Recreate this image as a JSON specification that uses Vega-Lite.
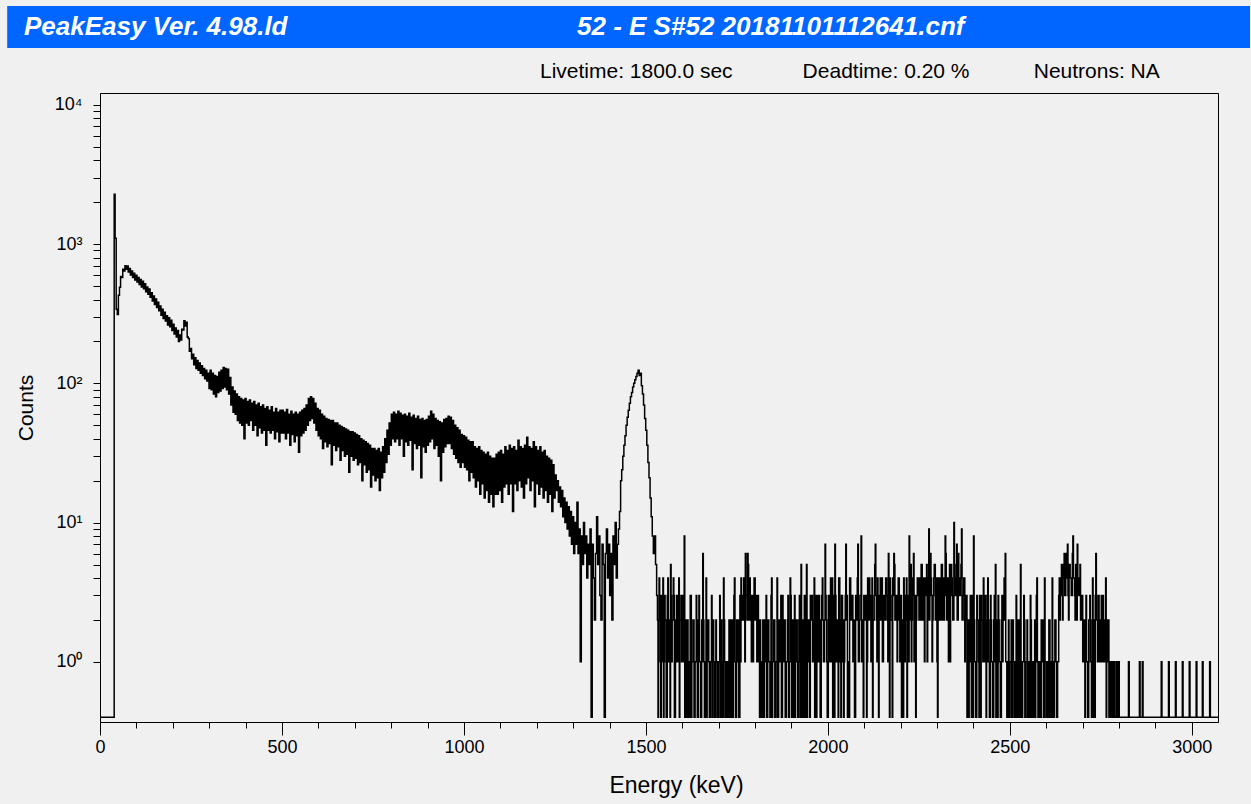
{
"$schema": "https://vega.github.io/schema/vega-lite/v6.json",
"background": "#f0f0f0",
"padding": {"left": 7, "top": 6, "right": 10, "bottom": 20},
"spacing": 12,
"config": {"view": {"stroke": null}, "font": "Liberation Sans"},
"vconcat": [
{
"width": 1118, "height": 42,
"layer": [
{"data": {"values": [{"part": "bar"}]},
 "mark": {"type": "rect", "color": "#0066ff"},
 "encoding": {"x": {"datum": -255, "type": "quantitative", "scale": {"domain": [0, 3072], "nice": false, "zero": false}, "axis": null}, "x2": {"datum": 3160}}},
{"data": {"values": [{"label": "PeakEasy Ver. 4.98.ld"}]},
 "mark": {"type": "text", "align": "left", "baseline": "middle", "fontSize": 26, "fontWeight": "bold", "fontStyle": "italic", "color": "white"},
 "encoding": {"x": {"datum": -209, "type": "quantitative"}, "text": {"field": "label"}}},
{"data": {"values": [{"label": "52 - E S#52 20181101112641.cnf"}]},
 "mark": {"type": "text", "align": "center", "baseline": "middle", "fontSize": 26, "fontWeight": "bold", "fontStyle": "italic", "color": "white"},
 "encoding": {"x": {"datum": 1843, "type": "quantitative"}, "text": {"field": "label"}}}
]
},
{
"width": 1118, "height": 629,
"view": {"stroke": "#000000", "strokeWidth": 1},
"title": {"text": "Livetime: 1800.0 sec\u00a0\u00a0\u00a0\u00a0\u00a0\u00a0\u00a0\u00a0\u00a0\u00a0\u00a0\u00a0Deadtime: 0.20 %\u00a0\u00a0\u00a0\u00a0\u00a0\u00a0\u00a0\u00a0\u00a0\u00a0\u00a0Neutrons: NA", "anchor": "start", "frame": "group", "dx": 440, "fontSize": 21, "fontWeight": "normal", "color": "#000000", "offset": -6, "baseline": "alphabetic"},
"data": {"values": [
{"e":0,"c":0},{"e":38,"c":0},{"e":40,"c":2280},{"e":43,"c":1100},{"e":46,"c":340},{"e":49,"c":312},{"e":52,"c":430},{"e":55,"c":490},{"e":58,"c":585},{"e":61,"c":575},{"e":64,"c":660},{"e":67,"c":640},{"e":70,"c":700},{"e":73,"c":660},{"e":76,"c":695},{"e":79,"c":630},{"e":82,"c":668},{"e":85,"c":600},{"e":88,"c":640},{"e":91,"c":575},{"e":94,"c":618},{"e":97,"c":552},{"e":100,"c":598},{"e":103,"c":535},{"e":106,"c":576},{"e":109,"c":512},{"e":112,"c":556},{"e":115,"c":492},{"e":118,"c":540},{"e":121,"c":478},{"e":124,"c":520},{"e":127,"c":455},{"e":130,"c":492},{"e":133,"c":436},{"e":136,"c":475},{"e":139,"c":415},{"e":142,"c":448},{"e":145,"c":390},{"e":148,"c":424},{"e":151,"c":368},{"e":154,"c":404},{"e":157,"c":350},{"e":160,"c":382},{"e":163,"c":332},{"e":166,"c":360},{"e":169,"c":308},{"e":172,"c":340},{"e":175,"c":292},{"e":178,"c":324},{"e":181,"c":280},{"e":184,"c":306},{"e":187,"c":262},{"e":190,"c":296},{"e":193,"c":255},{"e":196,"c":284},{"e":199,"c":240},{"e":202,"c":266},{"e":205,"c":226},{"e":208,"c":250},{"e":211,"c":215},{"e":214,"c":240},{"e":217,"c":200},{"e":220,"c":222},{"e":223,"c":205},{"e":226,"c":245},{"e":229,"c":242},{"e":232,"c":282},{"e":235,"c":258},{"e":238,"c":275},{"e":241,"c":215},{"e":244,"c":210},{"e":247,"c":170},{"e":250,"c":178},{"e":253,"c":150},{"e":256,"c":162},{"e":259,"c":136},{"e":262,"c":153},{"e":265,"c":128},{"e":268,"c":146},{"e":271,"c":124},{"e":274,"c":140},{"e":277,"c":118},{"e":280,"c":134},{"e":283,"c":114},{"e":286,"c":128},{"e":289,"c":108},{"e":292,"c":124},{"e":295,"c":104},{"e":298,"c":118},
{"e":301,"c":92},{"e":304,"c":124},{"e":307,"c":90},{"e":310,"c":118},{"e":313,"c":84},{"e":316,"c":114},{"e":319,"c":80},{"e":322,"c":112},{"e":325,"c":86},{"e":328,"c":120},{"e":331,"c":88},{"e":334,"c":124},{"e":337,"c":92},{"e":340,"c":130},{"e":343,"c":94},{"e":346,"c":128},{"e":349,"c":90},{"e":352,"c":126},{"e":355,"c":84},{"e":358,"c":110},{"e":361,"c":70},{"e":364,"c":94},{"e":367,"c":62},{"e":370,"c":88},{"e":373,"c":60},{"e":376,"c":84},{"e":379,"c":54},{"e":382,"c":80},{"e":385,"c":52},{"e":388,"c":78},{"e":391,"c":50},{"e":394,"c":76},{"e":397,"c":40},{"e":400,"c":78},{"e":403,"c":52},{"e":406,"c":74},{"e":409,"c":50},{"e":412,"c":76},{"e":415,"c":54},{"e":418,"c":72},{"e":421,"c":46},{"e":424,"c":74},{"e":427,"c":50},{"e":430,"c":70},{"e":433,"c":42},{"e":436,"c":72},{"e":439,"c":48},{"e":442,"c":68},{"e":445,"c":44},{"e":448,"c":70},{"e":451,"c":46},{"e":454,"c":66},{"e":457,"c":36},{"e":460,"c":68},{"e":463,"c":46},{"e":466,"c":64},{"e":469,"c":44},{"e":472,"c":68},{"e":475,"c":46},{"e":478,"c":62},{"e":481,"c":40},{"e":484,"c":66},{"e":487,"c":45},{"e":490,"c":62},{"e":493,"c":38},{"e":496,"c":64},{"e":499,"c":44},
{"e":502,"c":64},{"e":505,"c":44},{"e":508,"c":62},{"e":511,"c":40},{"e":514,"c":65},{"e":517,"c":44},{"e":520,"c":60},{"e":523,"c":36},{"e":526,"c":63},{"e":529,"c":43},{"e":532,"c":60},{"e":535,"c":38},{"e":538,"c":62},{"e":541,"c":42},{"e":544,"c":60},{"e":547,"c":32},{"e":550,"c":62},{"e":553,"c":42},{"e":556,"c":64},{"e":559,"c":44},{"e":562,"c":66},{"e":565,"c":46},{"e":568,"c":70},{"e":571,"c":50},{"e":574,"c":78},{"e":577,"c":54},{"e":580,"c":80},{"e":583,"c":56},{"e":586,"c":78},{"e":589,"c":52},{"e":592,"c":72},{"e":595,"c":46},{"e":598,"c":66},{"e":601,"c":42},{"e":604,"c":64},{"e":607,"c":40},{"e":610,"c":60},{"e":613,"c":34},{"e":616,"c":58},{"e":619,"c":38},{"e":622,"c":56},{"e":625,"c":35},{"e":628,"c":55},{"e":631,"c":37},{"e":634,"c":54},{"e":637,"c":26},{"e":640,"c":54},{"e":643,"c":36},{"e":646,"c":52},{"e":649,"c":33},{"e":652,"c":52},{"e":655,"c":35},{"e":658,"c":50},{"e":661,"c":28},{"e":664,"c":49},{"e":667,"c":33},{"e":670,"c":48},{"e":673,"c":30},{"e":676,"c":47},{"e":679,"c":31},{"e":682,"c":46},{"e":685,"c":23},{"e":688,"c":45},{"e":691,"c":30},{"e":694,"c":45},{"e":697,"c":28},{"e":700,"c":44},{"e":703,"c":29},{"e":706,"c":43},{"e":709,"c":26},{"e":712,"c":42},{"e":715,"c":27},{"e":718,"c":40},{"e":721,"c":20},{"e":724,"c":39},{"e":727,"c":26},{"e":730,"c":38},{"e":733,"c":23},{"e":736,"c":37},{"e":739,"c":24},{"e":742,"c":36},{"e":745,"c":18},{"e":748,"c":34},
{"e":751,"c":22},{"e":754,"c":34},{"e":757,"c":20},{"e":760,"c":33},{"e":763,"c":21},{"e":766,"c":34},{"e":769,"c":17},{"e":772,"c":32},{"e":775,"c":21},{"e":778,"c":35},{"e":781,"c":23},{"e":784,"c":40},{"e":787,"c":27},{"e":790,"c":46},{"e":793,"c":31},{"e":796,"c":52},{"e":799,"c":36},{"e":802,"c":60},{"e":805,"c":40},{"e":808,"c":62},{"e":811,"c":38},{"e":814,"c":60},{"e":817,"c":40},{"e":820,"c":63},{"e":823,"c":36},{"e":826,"c":61},{"e":829,"c":40},{"e":832,"c":59},{"e":835,"c":30},{"e":838,"c":60},{"e":841,"c":38},{"e":844,"c":58},{"e":847,"c":36},{"e":850,"c":61},{"e":853,"c":39},{"e":856,"c":57},{"e":859,"c":24},{"e":862,"c":59},{"e":865,"c":37},{"e":868,"c":56},{"e":871,"c":34},{"e":874,"c":58},{"e":877,"c":36},{"e":880,"c":55},{"e":883,"c":21},{"e":886,"c":56},{"e":889,"c":35},{"e":892,"c":54},{"e":895,"c":32},{"e":898,"c":55},{"e":901,"c":36},{"e":904,"c":58},{"e":907,"c":38},{"e":910,"c":63},{"e":913,"c":40},{"e":916,"c":60},{"e":919,"c":34},{"e":922,"c":56},{"e":925,"c":36},{"e":928,"c":54},{"e":931,"c":30},{"e":934,"c":53},{"e":937,"c":20},{"e":940,"c":52},{"e":943,"c":32},{"e":946,"c":55},{"e":949,"c":35},{"e":952,"c":56},{"e":955,"c":37},{"e":958,"c":58},{"e":961,"c":37},{"e":964,"c":57},{"e":967,"c":34},{"e":970,"c":54},{"e":973,"c":31},{"e":976,"c":50},{"e":979,"c":29},{"e":982,"c":48},{"e":985,"c":27},{"e":988,"c":46},{"e":991,"c":25},{"e":994,"c":43},{"e":997,"c":27},{"e":1000,"c":42},
{"e":1003,"c":25},{"e":1006,"c":41},{"e":1009,"c":24},{"e":1012,"c":39},{"e":1015,"c":20},{"e":1018,"c":38},{"e":1021,"c":23},{"e":1024,"c":38},{"e":1027,"c":21},{"e":1030,"c":35},{"e":1033,"c":18},{"e":1036,"c":34},{"e":1039,"c":20},{"e":1042,"c":35},{"e":1045,"c":16},{"e":1048,"c":33},{"e":1051,"c":19},{"e":1054,"c":32},{"e":1057,"c":15},{"e":1060,"c":31},{"e":1063,"c":17},{"e":1066,"c":32},{"e":1069,"c":14},{"e":1072,"c":30},{"e":1075,"c":16},{"e":1078,"c":29},{"e":1081,"c":13},{"e":1084,"c":29},{"e":1087,"c":16},{"e":1090,"c":31},{"e":1093,"c":16},{"e":1096,"c":32},{"e":1099,"c":17},{"e":1102,"c":33},{"e":1105,"c":14},{"e":1108,"c":31},{"e":1111,"c":18},{"e":1114,"c":35},{"e":1117,"c":19},{"e":1120,"c":33},{"e":1123,"c":16},{"e":1126,"c":36},{"e":1129,"c":19},{"e":1132,"c":34},{"e":1135,"c":12},{"e":1138,"c":35},{"e":1141,"c":19},{"e":1144,"c":33},{"e":1147,"c":17},{"e":1150,"c":39},{"e":1153,"c":20},{"e":1156,"c":35},{"e":1159,"c":18},{"e":1162,"c":34},{"e":1165,"c":15},{"e":1168,"c":36},{"e":1171,"c":19},{"e":1174,"c":41},{"e":1177,"c":21},{"e":1180,"c":35},{"e":1183,"c":17},{"e":1186,"c":34},{"e":1189,"c":20},{"e":1192,"c":38},{"e":1195,"c":13},{"e":1198,"c":35},{"e":1201,"c":19},{"e":1204,"c":33},{"e":1207,"c":16},{"e":1210,"c":35},{"e":1213,"c":18},{"e":1216,"c":32},{"e":1219,"c":15},{"e":1222,"c":33},{"e":1225,"c":17},{"e":1228,"c":30},{"e":1231,"c":14},{"e":1234,"c":29},{"e":1237,"c":16},{"e":1240,"c":28},{"e":1243,"c":12},{"e":1246,"c":26},{"e":1249,"c":15},
{"e":1252,"c":22},{"e":1255,"c":17},{"e":1258,"c":20},{"e":1261,"c":14},{"e":1264,"c":18},{"e":1267,"c":13},{"e":1270,"c":17},{"e":1273,"c":11},{"e":1276,"c":15},{"e":1279,"c":10},{"e":1282,"c":14},{"e":1285,"c":9},{"e":1288,"c":13},{"e":1291,"c":8},{"e":1294,"c":12},{"e":1297,"c":7},{"e":1300,"c":11},{"e":1303,"c":6},{"e":1306,"c":10},{"e":1309,"c":7},{"e":1312,"c":14},{"e":1315,"c":6},{"e":1318,"c":9},{"e":1321,"c":1},{"e":1324,"c":8},{"e":1327,"c":5},{"e":1330,"c":10},{"e":1333,"c":6},{"e":1336,"c":8},{"e":1339,"c":4},{"e":1342,"c":7},{"e":1345,"c":5},{"e":1348,"c":9},{"e":1351,"c":0},{"e":1354,"c":7},{"e":1357,"c":4},{"e":1360,"c":2},{"e":1363,"c":6},{"e":1366,"c":11},{"e":1369,"c":5},{"e":1372,"c":8},{"e":1375,"c":3},{"e":1378,"c":2},{"e":1381,"c":7},{"e":1384,"c":5},{"e":1387,"c":0},{"e":1390,"c":6},{"e":1393,"c":9},{"e":1396,"c":4},{"e":1399,"c":7},{"e":1402,"c":3},{"e":1405,"c":6},{"e":1408,"c":2},{"e":1411,"c":8},{"e":1414,"c":5},{"e":1417,"c":10},{"e":1420,"c":4},{"e":1423,"c":7},{"e":1426,"c":9},
{"e":1429,"c":12},{"e":1432,"c":20},{"e":1435,"c":24},{"e":1438,"c":30},{"e":1441,"c":36},{"e":1444,"c":42},{"e":1447,"c":50},{"e":1450,"c":57},{"e":1453,"c":64},{"e":1456,"c":72},{"e":1459,"c":80},{"e":1462,"c":86},{"e":1465,"c":94},{"e":1468,"c":100},{"e":1471,"c":106},{"e":1474,"c":112},{"e":1477,"c":118},{"e":1480,"c":124},{"e":1483,"c":114},{"e":1486,"c":118},{"e":1489,"c":96},{"e":1492,"c":84},{"e":1495,"c":70},{"e":1498,"c":56},{"e":1501,"c":46},{"e":1504,"c":36},{"e":1507,"c":27},{"e":1510,"c":21},{"e":1513,"c":15},{"e":1516,"c":11},{"e":1519,"c":8},{"e":1522,"c":6},{"e":1525,"c":8},{"e":1528,"c":5},
{"e":1531,"c":3},{"e":1534,"c":0},{"e":1537,"c":4},{"e":1540,"c":2},{"e":1543,"c":3},{"e":1546,"c":1},{"e":1549,"c":0},{"e":1552,"c":3},{"e":1555,"c":2},{"e":1558,"c":0},{"e":1561,"c":4},{"e":1564,"c":1},{"e":1567,"c":0},{"e":1570,"c":3},{"e":1573,"c":2},{"e":1576,"c":4},{"e":1579,"c":0},{"e":1582,"c":2},{"e":1585,"c":3},{"e":1588,"c":1},{"e":1591,"c":4},{"e":1594,"c":2},{"e":1597,"c":3},{"e":1600,"c":1},
{"e":1603,"c":2},{"e":1606,"c":8},{"e":1609,"c":1},{"e":1612,"c":0},{"e":1615,"c":2},{"e":1618,"c":1},{"e":1621,"c":0},{"e":1624,"c":3},{"e":1627,"c":1},{"e":1630,"c":2},{"e":1633,"c":0},{"e":1636,"c":1},{"e":1639,"c":3},{"e":1642,"c":0},{"e":1645,"c":2},{"e":1648,"c":1},{"e":1651,"c":0},{"e":1654,"c":2},{"e":1657,"c":6},{"e":1660,"c":1},{"e":1663,"c":0},{"e":1666,"c":4},{"e":1669,"c":1},{"e":1672,"c":2},{"e":1675,"c":0},{"e":1678,"c":1},{"e":1681,"c":3},{"e":1684,"c":0},{"e":1687,"c":1},{"e":1690,"c":0},{"e":1693,"c":2},{"e":1696,"c":1},{"e":1699,"c":0},{"e":1702,"c":1},{"e":1705,"c":0},{"e":1708,"c":2},{"e":1711,"c":0},{"e":1714,"c":4},{"e":1717,"c":1},{"e":1720,"c":0},{"e":1723,"c":1},{"e":1726,"c":0},{"e":1729,"c":2},{"e":1732,"c":1},{"e":1735,"c":0},{"e":1738,"c":2},{"e":1741,"c":1},{"e":1744,"c":4},{"e":1747,"c":0},{"e":1750,"c":2},{"e":1753,"c":1},{"e":1756,"c":0},{"e":1759,"c":3},
{"e":1762,"c":4},{"e":1765,"c":2},{"e":1768,"c":3},{"e":1771,"c":2},{"e":1774,"c":6},{"e":1777,"c":3},{"e":1780,"c":6},{"e":1783,"c":2},{"e":1786,"c":4},{"e":1789,"c":2},{"e":1792,"c":3},{"e":1795,"c":1},{"e":1798,"c":4},{"e":1801,"c":2},{"e":1804,"c":3},{"e":1807,"c":1},{"e":1810,"c":2},{"e":1813,"c":0},
{"e":1816,"c":1},{"e":1819,"c":0},{"e":1822,"c":2},{"e":1825,"c":0},{"e":1828,"c":1},{"e":1831,"c":3},{"e":1834,"c":0},{"e":1837,"c":2},{"e":1840,"c":1},{"e":1843,"c":0},{"e":1846,"c":4},{"e":1849,"c":1},{"e":1852,"c":2},{"e":1855,"c":0},{"e":1858,"c":1},{"e":1861,"c":4},{"e":1864,"c":0},{"e":1867,"c":2},{"e":1870,"c":1},{"e":1873,"c":0},{"e":1876,"c":3},{"e":1879,"c":1},{"e":1882,"c":2},{"e":1885,"c":0},{"e":1888,"c":1},{"e":1891,"c":3},{"e":1894,"c":0},{"e":1897,"c":4},{"e":1900,"c":1},{"e":1903,"c":2},{"e":1906,"c":0},{"e":1909,"c":3},{"e":1912,"c":1},{"e":1915,"c":2},{"e":1918,"c":0},{"e":1921,"c":2},{"e":1924,"c":1},{"e":1927,"c":5},{"e":1930,"c":0},{"e":1933,"c":2},{"e":1936,"c":3},{"e":1939,"c":0},{"e":1942,"c":5},{"e":1945,"c":1},{"e":1948,"c":2},{"e":1951,"c":0},
{"e":1954,"c":2},{"e":1957,"c":3},{"e":1960,"c":1},{"e":1963,"c":4},{"e":1966,"c":2},{"e":1969,"c":0},{"e":1972,"c":3},{"e":1975,"c":1},{"e":1978,"c":2},{"e":1981,"c":0},{"e":1984,"c":3},{"e":1987,"c":2},{"e":1990,"c":1},{"e":1993,"c":7},{"e":1996,"c":2},{"e":1999,"c":0},{"e":2002,"c":3},{"e":2005,"c":1},{"e":2008,"c":4},{"e":2011,"c":2},{"e":2014,"c":0},{"e":2017,"c":3},{"e":2020,"c":7},{"e":2023,"c":1},{"e":2026,"c":2},{"e":2029,"c":0},{"e":2032,"c":4},{"e":2035,"c":2},{"e":2038,"c":3},{"e":2041,"c":1},{"e":2044,"c":0},{"e":2047,"c":2},{"e":2050,"c":7},{"e":2053,"c":3},{"e":2056,"c":1},{"e":2059,"c":0},{"e":2062,"c":4},{"e":2065,"c":2},{"e":2068,"c":3},{"e":2071,"c":1},{"e":2074,"c":0},{"e":2077,"c":3},{"e":2080,"c":2},{"e":2083,"c":7},{"e":2086,"c":1},{"e":2089,"c":3},{"e":2092,"c":8},{"e":2095,"c":2},{"e":2098,"c":0},
{"e":2101,"c":3},{"e":2104,"c":2},{"e":2107,"c":0},{"e":2110,"c":4},{"e":2113,"c":2},{"e":2116,"c":3},{"e":2119,"c":1},{"e":2122,"c":4},{"e":2125,"c":2},{"e":2128,"c":3},{"e":2131,"c":7},{"e":2134,"c":2},{"e":2137,"c":4},{"e":2140,"c":0},{"e":2143,"c":3},{"e":2146,"c":2},{"e":2149,"c":4},{"e":2152,"c":1},{"e":2155,"c":3},{"e":2158,"c":2},{"e":2161,"c":4},{"e":2164,"c":2},{"e":2167,"c":6},{"e":2170,"c":0},{"e":2173,"c":3},{"e":2176,"c":2},{"e":2179,"c":4},{"e":2182,"c":6},{"e":2185,"c":2},{"e":2188,"c":3},{"e":2191,"c":1},{"e":2194,"c":4},{"e":2197,"c":2},{"e":2200,"c":3},{"e":2203,"c":0},{"e":2206,"c":2},{"e":2209,"c":4},{"e":2212,"c":1},{"e":2215,"c":3},{"e":2218,"c":0},{"e":2221,"c":2},{"e":2224,"c":8},{"e":2227,"c":3},{"e":2230,"c":1},{"e":2233,"c":4},{"e":2236,"c":6},{"e":2239,"c":2},{"e":2242,"c":0},{"e":2245,"c":3},
{"e":2248,"c":4},{"e":2251,"c":2},{"e":2254,"c":3},{"e":2257,"c":5},{"e":2260,"c":2},{"e":2263,"c":4},{"e":2266,"c":1},{"e":2269,"c":3},{"e":2272,"c":5},{"e":2275,"c":2},{"e":2278,"c":9},{"e":2281,"c":3},{"e":2284,"c":4},{"e":2287,"c":1},{"e":2290,"c":3},{"e":2293,"c":5},{"e":2296,"c":2},{"e":2299,"c":4},{"e":2302,"c":0},{"e":2305,"c":3},{"e":2308,"c":4},{"e":2311,"c":2},{"e":2314,"c":5},{"e":2317,"c":3},{"e":2320,"c":2},{"e":2323,"c":8},{"e":2326,"c":3},{"e":2329,"c":4},{"e":2332,"c":1},{"e":2335,"c":5},{"e":2338,"c":3},{"e":2341,"c":4},{"e":2344,"c":2},{"e":2347,"c":10},{"e":2350,"c":3},{"e":2353,"c":5},{"e":2356,"c":2},{"e":2359,"c":6},{"e":2362,"c":3},{"e":2365,"c":4},{"e":2368,"c":9},{"e":2371,"c":2},{"e":2374,"c":4},{"e":2377,"c":1},{"e":2380,"c":3},
{"e":2383,"c":0},{"e":2386,"c":2},{"e":2389,"c":1},{"e":2392,"c":3},{"e":2395,"c":0},{"e":2398,"c":2},{"e":2401,"c":8},{"e":2404,"c":1},{"e":2407,"c":0},{"e":2410,"c":3},{"e":2413,"c":2},{"e":2416,"c":0},{"e":2419,"c":1},{"e":2422,"c":3},{"e":2425,"c":2},{"e":2428,"c":4},{"e":2431,"c":1},{"e":2434,"c":3},{"e":2437,"c":2},{"e":2440,"c":4},{"e":2443,"c":1},{"e":2446,"c":0},{"e":2449,"c":2},{"e":2452,"c":1},{"e":2455,"c":0},{"e":2458,"c":3},{"e":2461,"c":5},{"e":2464,"c":1},{"e":2467,"c":0},{"e":2470,"c":2},{"e":2473,"c":1},{"e":2476,"c":0},{"e":2479,"c":3},{"e":2482,"c":2},{"e":2485,"c":4},{"e":2488,"c":6},
{"e":2491,"c":1},{"e":2494,"c":0},{"e":2497,"c":2},{"e":2500,"c":0},{"e":2503,"c":1},{"e":2506,"c":0},{"e":2509,"c":2},{"e":2512,"c":1},{"e":2515,"c":0},{"e":2518,"c":3},{"e":2521,"c":1},{"e":2524,"c":0},{"e":2527,"c":2},{"e":2530,"c":5},{"e":2533,"c":0},{"e":2536,"c":1},{"e":2539,"c":3},{"e":2542,"c":0},{"e":2545,"c":1},{"e":2548,"c":2},{"e":2551,"c":0},{"e":2554,"c":1},{"e":2557,"c":3},{"e":2560,"c":0},{"e":2563,"c":1},{"e":2566,"c":0},{"e":2569,"c":2},{"e":2572,"c":1},{"e":2575,"c":4},{"e":2578,"c":0},{"e":2581,"c":1},{"e":2584,"c":0},{"e":2587,"c":2},{"e":2590,"c":1},{"e":2593,"c":0},{"e":2596,"c":4},{"e":2599,"c":1},{"e":2602,"c":0},{"e":2605,"c":1},{"e":2608,"c":2},{"e":2611,"c":0},{"e":2614,"c":1},{"e":2617,"c":4},{"e":2620,"c":0},{"e":2623,"c":1},{"e":2626,"c":2},{"e":2629,"c":0},{"e":2632,"c":1},
{"e":2635,"c":3},{"e":2638,"c":2},{"e":2641,"c":4},{"e":2644,"c":3},{"e":2647,"c":5},{"e":2650,"c":6},{"e":2653,"c":3},{"e":2656,"c":4},{"e":2659,"c":7},{"e":2662,"c":2},{"e":2665,"c":5},{"e":2668,"c":4},{"e":2671,"c":3},{"e":2674,"c":8},{"e":2677,"c":4},{"e":2680,"c":2},{"e":2683,"c":5},{"e":2686,"c":7},{"e":2689,"c":3},{"e":2692,"c":4},{"e":2695,"c":2},{"e":2698,"c":3},{"e":2701,"c":1},
{"e":2704,"c":2},{"e":2707,"c":0},{"e":2710,"c":3},{"e":2713,"c":1},{"e":2716,"c":0},{"e":2719,"c":2},{"e":2722,"c":1},{"e":2725,"c":0},{"e":2728,"c":4},{"e":2731,"c":2},{"e":2734,"c":0},{"e":2737,"c":6},{"e":2740,"c":2},{"e":2743,"c":3},{"e":2746,"c":1},{"e":2749,"c":2},{"e":2752,"c":3},{"e":2755,"c":1},{"e":2758,"c":2},{"e":2761,"c":1},{"e":2764,"c":4},{"e":2767,"c":2},{"e":2770,"c":1},{"e":2773,"c":0},{"e":2776,"c":1},{"e":2779,"c":0},{"e":2782,"c":1},{"e":2785,"c":0},{"e":2788,"c":1},{"e":2791,"c":0},{"e":2794,"c":1},{"e":2797,"c":0},{"e":2800,"c":1},
{"e":2803,"c":0},{"e":2825,"c":0},{"e":2827,"c":1},{"e":2829,"c":0},{"e":2855,"c":0},{"e":2857,"c":1},{"e":2859,"c":0},{"e":2863,"c":0},{"e":2865,"c":1},{"e":2867,"c":0},{"e":2915,"c":0},{"e":2917,"c":1},{"e":2919,"c":0},{"e":2935,"c":0},{"e":2937,"c":1},{"e":2939,"c":0},{"e":2954,"c":0},{"e":2956,"c":1},{"e":2958,"c":0},{"e":2973,"c":0},{"e":2975,"c":1},{"e":2977,"c":0},{"e":2992,"c":0},{"e":2994,"c":1},{"e":2996,"c":0},{"e":3011,"c":0},{"e":3013,"c":1},{"e":3015,"c":0},{"e":3028,"c":0},{"e":3030,"c":1},{"e":3032,"c":0},{"e":3048,"c":0},{"e":3050,"c":1},{"e":3052,"c":0},{"e":3072,"c":0},
{"e":1532.5,"c":2},{"e":1535.5,"c":1},{"e":1538.5,"c":3},{"e":1541.5,"c":0},{"e":1544.5,"c":2},{"e":1547.5,"c":4},{"e":1550.5,"c":1},{"e":1553.5,"c":2},{"e":1556.5,"c":0},{"e":1559.5,"c":3},{"e":1562.5,"c":1},{"e":1565.5,"c":2},{"e":1568.5,"c":5},{"e":1571.5,"c":1},{"e":1574.5,"c":2},{"e":1577.5,"c":3},{"e":1580.5,"c":0},{"e":1583.5,"c":1},{"e":1586.5,"c":3},{"e":1589.5,"c":2},{"e":1592.5,"c":0},{"e":1595.5,"c":2},{"e":1598.5,"c":1},{"e":1601.5,"c":3},
{"e":1604.5,"c":1},{"e":1607.5,"c":0},{"e":1610.5,"c":2},{"e":1613.5,"c":1},{"e":1616.5,"c":0},{"e":1619.5,"c":1},{"e":1622.5,"c":3},{"e":1625.5,"c":0},{"e":1628.5,"c":1},{"e":1631.5,"c":2},{"e":1634.5,"c":0},{"e":1637.5,"c":1},{"e":1640.5,"c":2},{"e":1643.5,"c":0},{"e":1646.5,"c":3},{"e":1649.5,"c":1},{"e":1652.5,"c":0},{"e":1655.5,"c":1},{"e":1658.5,"c":2},{"e":1661.5,"c":0},{"e":1664.5,"c":1},{"e":1667.5,"c":0},{"e":1670.5,"c":2},{"e":1673.5,"c":1},{"e":1676.5,"c":0},{"e":1679.5,"c":1},{"e":1682.5,"c":0},{"e":1685.5,"c":2},{"e":1688.5,"c":1},{"e":1691.5,"c":0},{"e":1694.5,"c":1},{"e":1697.5,"c":0},{"e":1700.5,"c":1},{"e":1703.5,"c":3},{"e":1706.5,"c":0},{"e":1709.5,"c":1},{"e":1712.5,"c":0},{"e":1715.5,"c":2},{"e":1718.5,"c":0},{"e":1721.5,"c":1},{"e":1724.5,"c":0},{"e":1727.5,"c":1},{"e":1730.5,"c":0},{"e":1733.5,"c":2},{"e":1736.5,"c":1},{"e":1739.5,"c":0},{"e":1742.5,"c":3},{"e":1745.5,"c":1},{"e":1748.5,"c":0},{"e":1751.5,"c":1},{"e":1754.5,"c":2},{"e":1757.5,"c":0},{"e":1760.5,"c":1},
{"e":1763.5,"c":3},{"e":1766.5,"c":2},{"e":1769.5,"c":4},{"e":1772.5,"c":1},{"e":1775.5,"c":3},{"e":1778.5,"c":2},{"e":1781.5,"c":5},{"e":1784.5,"c":2},{"e":1787.5,"c":3},{"e":1790.5,"c":1},{"e":1793.5,"c":3},{"e":1796.5,"c":2},{"e":1799.5,"c":4},{"e":1802.5,"c":2},{"e":1805.5,"c":1},{"e":1808.5,"c":3},{"e":1811.5,"c":1},{"e":1814.5,"c":2},
{"e":1817.5,"c":0},{"e":1820.5,"c":1},{"e":1823.5,"c":0},{"e":1826.5,"c":2},{"e":1829.5,"c":1},{"e":1832.5,"c":0},{"e":1835.5,"c":2},{"e":1838.5,"c":1},{"e":1841.5,"c":0},{"e":1844.5,"c":3},{"e":1847.5,"c":0},{"e":1850.5,"c":1},{"e":1853.5,"c":2},{"e":1856.5,"c":0},{"e":1859.5,"c":1},{"e":1862.5,"c":0},{"e":1865.5,"c":2},{"e":1868.5,"c":1},{"e":1871.5,"c":3},{"e":1874.5,"c":0},{"e":1877.5,"c":1},{"e":1880.5,"c":2},{"e":1883.5,"c":0},{"e":1886.5,"c":1},{"e":1889.5,"c":2},{"e":1892.5,"c":0},{"e":1895.5,"c":1},{"e":1898.5,"c":3},{"e":1901.5,"c":0},{"e":1904.5,"c":2},{"e":1907.5,"c":1},{"e":1910.5,"c":0},{"e":1913.5,"c":2},{"e":1916.5,"c":1},{"e":1919.5,"c":0},{"e":1922.5,"c":3},{"e":1925.5,"c":0},{"e":1928.5,"c":1},{"e":1931.5,"c":2},{"e":1934.5,"c":0},{"e":1937.5,"c":3},{"e":1940.5,"c":1},{"e":1943.5,"c":0},{"e":1946.5,"c":2},{"e":1949.5,"c":1},{"e":1952.5,"c":3},
{"e":1955.5,"c":3},{"e":1958.5,"c":1},{"e":1961.5,"c":2},{"e":1964.5,"c":0},{"e":1967.5,"c":3},{"e":1970.5,"c":2},{"e":1973.5,"c":1},{"e":1976.5,"c":3},{"e":1979.5,"c":0},{"e":1982.5,"c":2},{"e":1985.5,"c":4},{"e":1988.5,"c":1},{"e":1991.5,"c":2},{"e":1994.5,"c":3},{"e":1997.5,"c":1},{"e":2000.5,"c":0},{"e":2003.5,"c":2},{"e":2006.5,"c":3},{"e":2009.5,"c":1},{"e":2012.5,"c":4},{"e":2015.5,"c":2},{"e":2018.5,"c":0},{"e":2021.5,"c":3},{"e":2024.5,"c":1},{"e":2027.5,"c":2},{"e":2030.5,"c":4},{"e":2033.5,"c":1},{"e":2036.5,"c":0},{"e":2039.5,"c":3},{"e":2042.5,"c":2},{"e":2045.5,"c":1},{"e":2048.5,"c":3},{"e":2051.5,"c":2},{"e":2054.5,"c":0},{"e":2057.5,"c":1},{"e":2060.5,"c":4},{"e":2063.5,"c":2},{"e":2066.5,"c":3},{"e":2069.5,"c":1},{"e":2072.5,"c":2},{"e":2075.5,"c":0},{"e":2078.5,"c":3},{"e":2081.5,"c":4},{"e":2084.5,"c":1},{"e":2087.5,"c":2},{"e":2090.5,"c":3},{"e":2093.5,"c":1},{"e":2096.5,"c":2},{"e":2099.5,"c":3},
{"e":2102.5,"c":2},{"e":2105.5,"c":3},{"e":2108.5,"c":1},{"e":2111.5,"c":3},{"e":2114.5,"c":4},{"e":2117.5,"c":2},{"e":2120.5,"c":3},{"e":2123.5,"c":0},{"e":2126.5,"c":2},{"e":2129.5,"c":5},{"e":2132.5,"c":3},{"e":2135.5,"c":1},{"e":2138.5,"c":3},{"e":2141.5,"c":2},{"e":2144.5,"c":4},{"e":2147.5,"c":2},{"e":2150.5,"c":1},{"e":2153.5,"c":3},{"e":2156.5,"c":2},{"e":2159.5,"c":4},{"e":2162.5,"c":3},{"e":2165.5,"c":1},{"e":2168.5,"c":2},{"e":2171.5,"c":4},{"e":2174.5,"c":2},{"e":2177.5,"c":0},{"e":2180.5,"c":3},{"e":2183.5,"c":5},{"e":2186.5,"c":2},{"e":2189.5,"c":3},{"e":2192.5,"c":2},{"e":2195.5,"c":4},{"e":2198.5,"c":1},{"e":2201.5,"c":3},{"e":2204.5,"c":2},{"e":2207.5,"c":0},{"e":2210.5,"c":3},{"e":2213.5,"c":2},{"e":2216.5,"c":4},{"e":2219.5,"c":3},{"e":2222.5,"c":1},{"e":2225.5,"c":2},{"e":2228.5,"c":5},{"e":2231.5,"c":2},{"e":2234.5,"c":3},{"e":2237.5,"c":1},{"e":2240.5,"c":3},{"e":2243.5,"c":2},{"e":2246.5,"c":4},
{"e":2249.5,"c":3},{"e":2252.5,"c":4},{"e":2255.5,"c":2},{"e":2258.5,"c":5},{"e":2261.5,"c":3},{"e":2264.5,"c":2},{"e":2267.5,"c":4},{"e":2270.5,"c":3},{"e":2273.5,"c":1},{"e":2276.5,"c":4},{"e":2279.5,"c":2},{"e":2282.5,"c":6},{"e":2285.5,"c":3},{"e":2288.5,"c":2},{"e":2291.5,"c":4},{"e":2294.5,"c":5},{"e":2297.5,"c":3},{"e":2300.5,"c":1},{"e":2303.5,"c":4},{"e":2306.5,"c":2},{"e":2309.5,"c":3},{"e":2312.5,"c":5},{"e":2315.5,"c":2},{"e":2318.5,"c":4},{"e":2321.5,"c":3},{"e":2324.5,"c":6},{"e":2327.5,"c":2},{"e":2330.5,"c":4},{"e":2333.5,"c":3},{"e":2336.5,"c":1},{"e":2339.5,"c":5},{"e":2342.5,"c":3},{"e":2345.5,"c":2},{"e":2348.5,"c":4},{"e":2351.5,"c":3},{"e":2354.5,"c":7},{"e":2357.5,"c":2},{"e":2360.5,"c":4},{"e":2363.5,"c":3},{"e":2366.5,"c":5},{"e":2369.5,"c":2},{"e":2372.5,"c":3},{"e":2375.5,"c":4},{"e":2378.5,"c":2},{"e":2381.5,"c":3},
{"e":2384.5,"c":1},{"e":2387.5,"c":0},{"e":2390.5,"c":2},{"e":2393.5,"c":1},{"e":2396.5,"c":3},{"e":2399.5,"c":0},{"e":2402.5,"c":2},{"e":2405.5,"c":1},{"e":2408.5,"c":0},{"e":2411.5,"c":2},{"e":2414.5,"c":1},{"e":2417.5,"c":3},{"e":2420.5,"c":0},{"e":2423.5,"c":2},{"e":2426.5,"c":1},{"e":2429.5,"c":3},{"e":2432.5,"c":2},{"e":2435.5,"c":0},{"e":2438.5,"c":1},{"e":2441.5,"c":2},{"e":2444.5,"c":0},{"e":2447.5,"c":3},{"e":2450.5,"c":1},{"e":2453.5,"c":0},{"e":2456.5,"c":2},{"e":2459.5,"c":1},{"e":2462.5,"c":0},{"e":2465.5,"c":2},{"e":2468.5,"c":3},{"e":2471.5,"c":1},{"e":2474.5,"c":0},{"e":2477.5,"c":2},{"e":2480.5,"c":1},{"e":2483.5,"c":3},{"e":2486.5,"c":2},{"e":2489.5,"c":1},
{"e":2492.5,"c":0},{"e":2495.5,"c":1},{"e":2498.5,"c":0},{"e":2501.5,"c":1},{"e":2504.5,"c":2},{"e":2507.5,"c":0},{"e":2510.5,"c":1},{"e":2513.5,"c":0},{"e":2516.5,"c":1},{"e":2519.5,"c":0},{"e":2522.5,"c":2},{"e":2525.5,"c":1},{"e":2528.5,"c":0},{"e":2531.5,"c":1},{"e":2534.5,"c":0},{"e":2537.5,"c":1},{"e":2540.5,"c":2},{"e":2543.5,"c":0},{"e":2546.5,"c":1},{"e":2549.5,"c":0},{"e":2552.5,"c":1},{"e":2555.5,"c":0},{"e":2558.5,"c":2},{"e":2561.5,"c":1},{"e":2564.5,"c":0},{"e":2567.5,"c":1},{"e":2570.5,"c":0},{"e":2573.5,"c":3},{"e":2576.5,"c":1},{"e":2579.5,"c":0},{"e":2582.5,"c":1},{"e":2585.5,"c":0},{"e":2588.5,"c":1},{"e":2591.5,"c":2},{"e":2594.5,"c":0},{"e":2597.5,"c":1},{"e":2600.5,"c":0},{"e":2603.5,"c":1},{"e":2606.5,"c":0},{"e":2609.5,"c":2},{"e":2612.5,"c":1},{"e":2615.5,"c":0},{"e":2618.5,"c":1},{"e":2621.5,"c":0},{"e":2624.5,"c":2},{"e":2627.5,"c":1},{"e":2630.5,"c":0},{"e":2633.5,"c":1},
{"e":2636.5,"c":4},{"e":2639.5,"c":3},{"e":2642.5,"c":5},{"e":2645.5,"c":2},{"e":2648.5,"c":4},{"e":2651.5,"c":3},{"e":2654.5,"c":6},{"e":2657.5,"c":4},{"e":2660.5,"c":3},{"e":2663.5,"c":5},{"e":2666.5,"c":4},{"e":2669.5,"c":3},{"e":2672.5,"c":6},{"e":2675.5,"c":4},{"e":2678.5,"c":3},{"e":2681.5,"c":5},{"e":2684.5,"c":2},{"e":2687.5,"c":4},{"e":2690.5,"c":3},{"e":2693.5,"c":5},{"e":2696.5,"c":2},{"e":2699.5,"c":3},{"e":2702.5,"c":2},
{"e":2705.5,"c":1},{"e":2708.5,"c":2},{"e":2711.5,"c":1},{"e":2714.5,"c":0},{"e":2717.5,"c":2},{"e":2720.5,"c":3},{"e":2723.5,"c":1},{"e":2726.5,"c":2},{"e":2729.5,"c":0},{"e":2732.5,"c":1},{"e":2735.5,"c":3},{"e":2738.5,"c":2},{"e":2741.5,"c":1},{"e":2744.5,"c":3},{"e":2747.5,"c":2},{"e":2750.5,"c":1},{"e":2753.5,"c":2},{"e":2756.5,"c":3},{"e":2759.5,"c":1},{"e":2762.5,"c":2},{"e":2765.5,"c":0},{"e":2768.5,"c":1},{"e":2771.5,"c":2},{"e":2774.5,"c":1},{"e":2777.5,"c":0},{"e":2780.5,"c":1},{"e":2783.5,"c":0},{"e":2786.5,"c":1},{"e":2789.5,"c":0},{"e":2792.5,"c":0},{"e":2795.5,"c":1},{"e":2798.5,"c":0},{"e":2801.5,"c":0}
]},
"transform": [{"calculate": "max(datum.c, 0.4)", "as": "shown"}],
"mark": {"type": "line", "color": "#000000", "strokeWidth": 1.5, "interpolate": "step"},
"encoding": {
 "x": {"field": "e", "type": "quantitative",
  "scale": {"domain": [0, 3072], "nice": false, "zero": false},
  "axis": {"values": [0,100,200,300,400,500,600,700,800,900,1000,1100,1200,1300,1400,1500,1600,1700,1800,1900,2000,2100,2200,2300,2400,2500,2600,2700,2800,2900,3000],
   "format": "d",
   "labelExpr": "datum.value % 500 == 0 ? datum.label : ''",
   "tickSize": {"condition": {"test": "datum.value % 500 == 0", "value": 13}, "value": 6},
   "tickColor": "#000000", "domainColor": "#000000", "labelColor": "#000000",
   "labelFontSize": 18, "labelPadding": 3, "labelFlush": false, "labelOverlap": false,
   "grid": false,
   "title": "Energy (keV)", "titleFontSize": 23, "titleFontWeight": "normal", "titleColor": "#000000", "titlePadding": 18, "titleX": 576}},
 "y": {"field": "shown", "type": "quantitative",
  "scale": {"type": "log", "domain": [0.37, 12160], "nice": false},
  "axis": {"values": [1,2,3,4,5,6,7,8,9,10,20,30,40,50,60,70,80,90,100,200,300,400,500,600,700,800,900,1000,2000,3000,4000,5000,6000,7000,8000,9000,10000],
   "labelExpr": "datum.value == 1 ? '10\u2070' : datum.value == 10 ? '10\u00b9' : datum.value == 100 ? '10\u00b2' : datum.value == 1000 ? '10\u00b3' : datum.value == 10000 ? '10\u2074' : ''",
   "tickSize": 7, "tickColor": "#000000", "domainColor": "#000000", "labelColor": "#000000",
   "labelFontSize": 18, "labelPadding": 11, "labelFlush": false, "labelOverlap": false,
   "grid": false,
   "title": "Counts", "titleFontSize": 21, "titleFontWeight": "normal", "titleColor": "#000000", "titlePadding": 18}}
}
}
]
}
